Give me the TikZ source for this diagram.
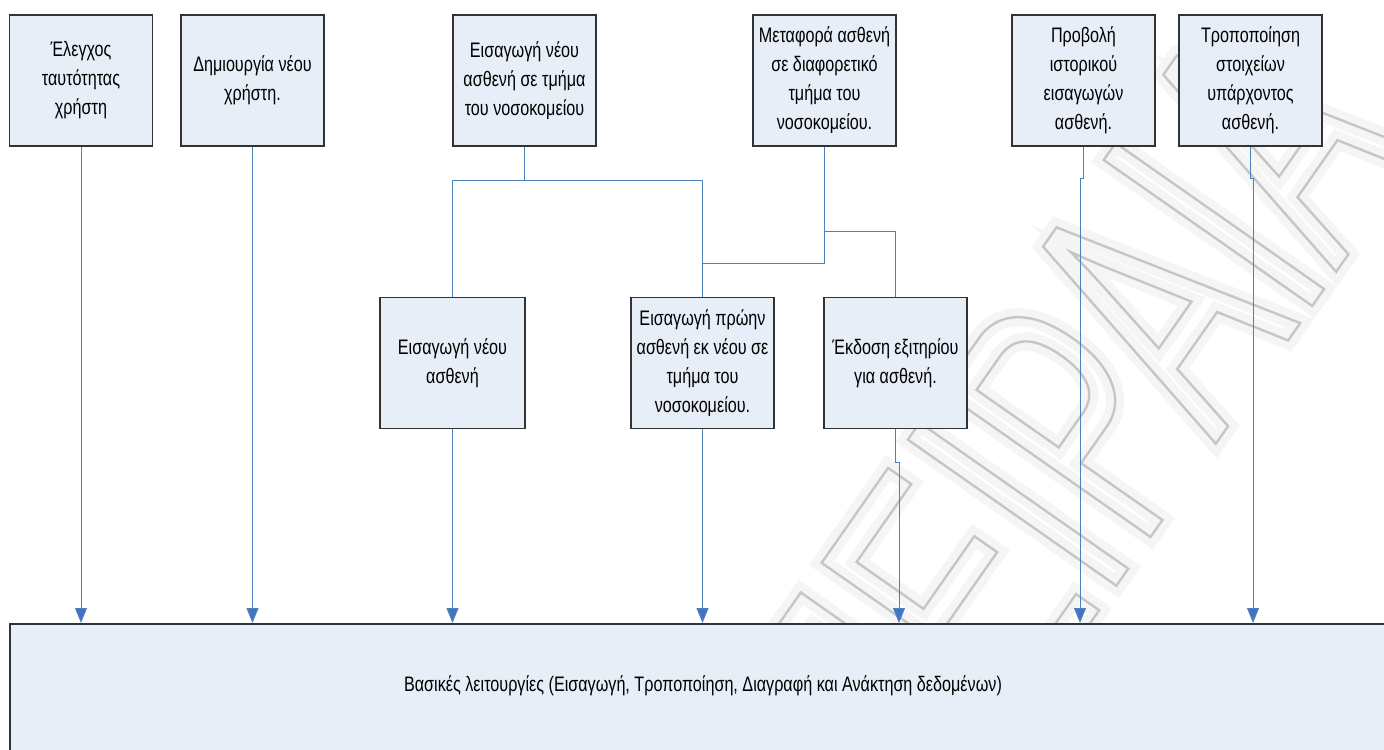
\documentclass[tikz,border=0pt]{standalone}
\usepackage{fontspec}
\setmainfont{Liberation Sans}[FakeStretch=0.77]
\newfontfamily\wmfont{Liberation Sans}[FakeStretch=0.6]
\usetikzlibrary{arrows.meta}
\definecolor{boxfill}{HTML}{E8EEF7}
\definecolor{boxline}{HTML}{333333}
\definecolor{linkblue}{HTML}{4F81BD}
\definecolor{tipblue}{HTML}{4472C4}
% stroked (outline) glyphs through the xdvipdfmx literal special
\newcommand\strokedtext[2]{\special{pdf:literal direct 1 Tr #1 w}#2\special{pdf:literal direct 0 Tr}}

\begin{document}
\begin{tikzpicture}[x=0.5pt,y=-0.5pt,
  font=\fontsize{10.5pt}{14.5pt}\selectfont,
  box/.style={draw=boxline, line width=0.9pt, fill=boxfill, inner sep=0pt,
    align=center, minimum width=71.5pt, minimum height=65.5pt},
  link/.style={draw=linkblue, line width=0.5pt},
  arr/.style={link, -{Triangle[width=6pt,length=7.5pt,fill=tipblue]}},
  wm/.style={rotate=55, font=\wmfont\fontsize{185pt}{185pt}\selectfont},
]
\useasboundingbox (0,0) rectangle (1384,749);
\fill[white] (0,0) rectangle (1384,749);

% background watermark: soft halo under a thin grey outline
\node[wm, text=gray!8] (wmhalo) at (1070,430) {\strokedtext{9}{ΠΕΙΡΑΙΑ}};
\node[wm, text=gray!45] (wmtext) at (1070,430) {\strokedtext{1.2}{ΠΕΙΡΑΙΑ}};

% upper row
\node[box] (b1) at (81,80.5) {Έλεγχος\\ταυτότητας\\χρήστη};
\node[box] (b2) at (252.5,80.5) {Δημιουργία νέου\\χρήστη.};
\node[box] (b3) at (524.5,80.5) {Εισαγωγή νέου\\ασθενή σε τμήμα\\του νοσοκομείου};
\node[box] (b4) at (824.5,80.5) {Μεταφορά ασθενή\\σε διαφορετικό\\τμήμα του\\νοσοκομείου.};
\node[box] (b5) at (1083.5,80.5) {Προβολή\\ιστορικού\\εισαγωγών\\ασθενή.};
\node[box] (b6) at (1250.5,80.5) {Τροποποίηση\\στοιχείων\\υπάρχοντος\\ασθενή.};

% middle row
\node[box, minimum width=72.5pt] (bA) at (452.5,363) {Εισαγωγή νέου\\ασθενή};
\node[box] (bB) at (702.5,363) {Εισαγωγή πρώην\\ασθενή εκ νέου σε\\τμήμα του\\νοσοκομείου.};
\node[box] (bC) at (895.5,363) {Έκδοση εξιτηρίου\\για ασθενή.};

% base layer
\node[box, anchor=north, minimum width=693pt, minimum height=68.5pt,
  text height=8pt, text depth=9pt] (bot) at (703,623)
  {Βασικές λειτουργίες (Εισαγωγή, Τροποποίηση, Διαγραφή και Ανάκτηση δεδομένων)};

% branching links
\coordinate (j1) at (524.5,180);
\coordinate (m1) at (824.5,263);
\coordinate (m2) at (824.5,231);
\draw[link] (b3.south) -- (j1);
\draw[link] (bA.north) |- (j1 -| bB.north) -- (bB.north);
\draw[link] (b4.south) -- (m1) -- (m1 -| bB.north);
\draw[link] (m2) -| (bC.north);

% arrows down to the base layer
\coordinate (kC) at (899,462);
\coordinate (k5) at (1080,178);
\coordinate (k6) at (1253,178);
\draw[arr] (b1.south) -- (b1.south |- bot.north);
\draw[arr] (b2.south) -- (b2.south |- bot.north);
\draw[arr] (bA.south) -- (bA.south |- bot.north);
\draw[arr] (bB.south) -- (bB.south |- bot.north);
\draw[arr] (bC.south) |- (kC) -- (kC |- bot.north);
\draw[arr] (b5.south) |- (k5) -- (k5 |- bot.north);
\draw[arr] (b6.south) |- (k6) -- (k6 |- bot.north);
\end{tikzpicture}
\end{document}
